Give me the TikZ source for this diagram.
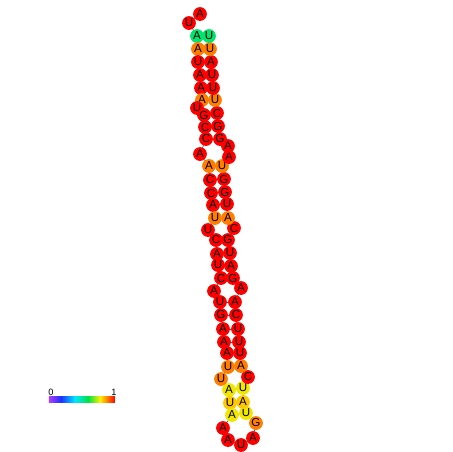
\documentclass[tikz,border=0pt]{standalone}
\usepackage{fontspec}
\setmainfont{Liberation Sans}
\usetikzlibrary{backgrounds}
\definecolor{cr}{RGB}{255,0,0}
\definecolor{co}{RGB}{255,125,0}
\definecolor{cg}{RGB}{0,228,110}
\definecolor{cy}{RGB}{240,230,0}
\definecolor{cyo}{RGB}{255,200,0}
\definecolor{sp}{RGB}{175,60,255}
\definecolor{sb}{RGB}{30,50,255}
\definecolor{sc}{RGB}{0,230,255}
\definecolor{sg}{RGB}{0,225,70}
\definecolor{sy}{RGB}{250,240,0}
\definecolor{so}{RGB}{255,130,0}
\definecolor{sr}{RGB}{255,0,0}
\begin{document}
\begin{tikzpicture}[x=0.5pt,y=-0.5pt,
  nt/.style={circle,inner sep=0pt,minimum size=6.9pt,font=\fontsize{5.8}{6}\selectfont},
  bb/.style={draw=black!65,line width=0.3pt},
  lab/.style={inner sep=0pt,font=\fontsize{4.6}{5}\selectfont}]
\useasboundingbox (0,0) rectangle (452,452);
\foreach \i/\x/\y/\l/\c in {
 1/200/14/A/cr, 2/189/23/U/cr, 3/197/36/A/cg, 4/198/49/A/co, 5/198/62/U/cr,
 6/200/75/A/cr, 7/201/88/A/cr, 8/202/100/A/co, 9/197/108/U/cr, 10/204/115/G/cr,
 11/205/127/C/cr, 12/206/139/C/cr, 13/200/154/A/cr, 14/209/166/A/co, 15/210/180/C/cr,
 16/211/193/C/cr, 17/213/205/A/cr, 18/215/218/U/co, 19/208/230/U/cr, 20/216/240/C/cr,
 21/217/254/A/cr, 22/218/265/U/cr, 23/221/278/C/cr, 24/214/291/A/cr, 25/220/302/U/cr,
 26/221/315/G/cr, 27/223/329/A/cr, 28/224/342/A/cr, 29/227/353/A/cr, 30/228/367/U/co,
 31/221/379/U/co, 32/229/390/A/cy, 33/230/403/U/cyo, 34/232/415/A/cy, 35/223/428/A/cr,
 36/228/440/A/cr, 37/241/445/U/cr, 38/253/438/A/cr, 39/256/423/G/co, 40/246/413/U/cy,
 41/243/402/A/cyo, 42/243/388/U/cy, 43/248/377/C/cr, 44/241/366/A/co, 45/240/353/U/cr,
 46/239/342/U/cr, 47/238/329/U/cr, 48/236/315/C/cr, 49/235/302/A/cr, 50/241/288/A/cr,
 51/233/278/G/cr, 52/231/266/A/cr, 53/230/253/U/cr, 54/228/240/G/cr, 55/234/228/C/cr,
 56/228/218/A/co, 57/227/204/U/cr, 58/225/192/G/cr, 59/224/179/G/cr, 60/222/166/U/co,
 61/229/157/A/cr, 62/228/146/A/cr, 63/220/139/G/cr, 64/218/126/G/cr, 65/217/113/C/cr,
 66/215/100/U/co, 67/213/88/U/cr, 68/212/75/U/cr, 69/211/62/A/cr, 70/210/49/U/co,
 71/209/36/U/cg}
  \node[nt,fill=\c] (n\i) at (\x,\y) {\l};
\begin{scope}[on background layer]
  \foreach \i [evaluate=\i as \j using int(\i+1)] in {1,...,70}
    \draw[bb] (n\i.center) -- (n\j.center);
  \foreach \a/\b in {3/71,4/70,5/69,6/68,7/67,8/66,10/65,11/64,12/63,
    14/60,15/59,16/58,17/57,18/56,20/54,21/53,22/52,23/51,
    25/49,26/48,27/47,28/46,29/45,30/44,32/42,33/41,34/40}
    \draw[bb] (n\a.center) -- (n\b.center);
\end{scope}
% colour scale
\shade[left color=sp,right color=sb] (49,396) rectangle (61,402);
\shade[left color=sb,right color=sc] (61,396) rectangle (75,402);
\shade[left color=sc,right color=sg] (75,396) rectangle (88,402);
\shade[left color=sg,right color=sy] (88,396) rectangle (100,402);
\shade[left color=sy,right color=so] (100,396) rectangle (107,402);
\shade[left color=so,right color=sr] (107,396) rectangle (115,402);
\node[lab] (l0) at (51,392) {0};
\node[lab] (l1) at (114,392) {1};
\end{tikzpicture}
\end{document}
